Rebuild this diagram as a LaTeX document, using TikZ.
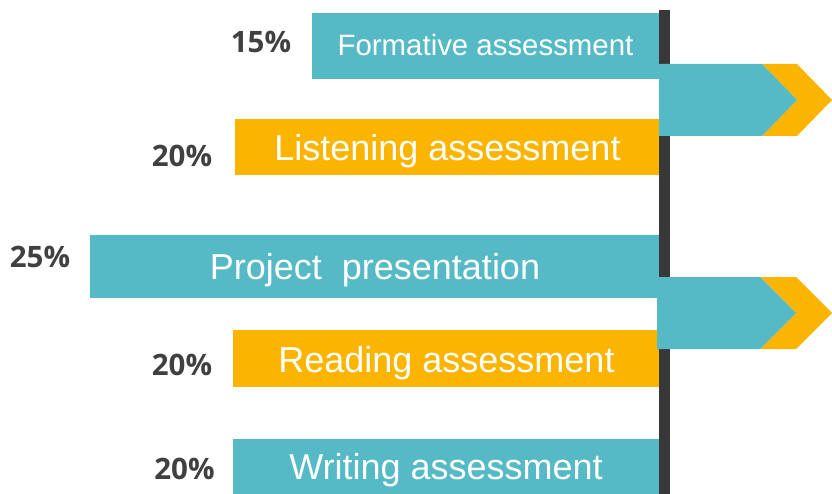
\documentclass[tikz,border=0pt]{standalone}
\usepackage{fontspec}
\setmainfont{Liberation Sans}
\newfontfamily\pctfont{Open Sans}
\definecolor{tealc}{HTML}{55BAC6}
\definecolor{orangec}{HTML}{FBB400}
\definecolor{darkbar}{HTML}{383838}
\definecolor{pctgray}{HTML}{404040}
\begin{document}
\begin{tikzpicture}[x=1pt,y=-1pt,
  barlabel/.style={text=white,anchor=base,inner sep=0pt,font=\fontsize{36}{40}\selectfont},
  smalllabel/.style={barlabel,font=\fontsize{29.4}{34}\selectfont},
  pct/.style={text=pctgray,anchor=base,inner sep=0pt,font=\pctfont\bfseries\fontsize{29.5}{34}\selectfont}]
\useasboundingbox (0,0) rectangle (832,494);
% vertical axis
\fill[darkbar] (659,10) rectangle (670,494);
% bars
\fill[tealc] (312,13) rectangle (659,79);
\fill[orangec] (235,119) rectangle (659,175);
\fill[tealc] (90,235) rectangle (659,298);
\fill[orangec] (233,330) rectangle (659,387);
\fill[tealc] (233,439) rectangle (659,494);
% chevrons
\fill[orangec] (762,64) -- (797,64) -- (832,100) -- (797,136) -- (762,136) -- (797,100) -- cycle;
\fill[tealc] (659,64) -- (762,64) -- (797,100) -- (762,136) -- (659,136) -- cycle;
\fill[orangec] (760,277) -- (796,277) -- (832,313) -- (796,349) -- (760,349) -- (796,313) -- cycle;
\fill[tealc] (657,277) -- (760,277) -- (796,313) -- (760,349) -- (657,349) -- cycle;
% bar texts
\node[smalllabel] (t1) at (485.5,56) {Formative assessment};
\node[barlabel] (t2) at (447.5,160.7) {Listening assessment};
\node[barlabel] (t3) at (375,279.3) {Project\ \ presentation};
\node[barlabel] (t4) at (446.5,372.5) {Reading assessment};
\node[barlabel] (t5) at (446,479.3) {Writing assessment};
% percentages
\node[pct] (p1) at (261,53) {15\%};
\node[pct] (p2) at (182,167) {20\%};
\node[pct] (p3) at (40,268) {25\%};
\node[pct] (p4) at (182,375.5) {20\%};
\node[pct] (p5) at (184.5,479) {20\%};
\end{tikzpicture}
\end{document}
